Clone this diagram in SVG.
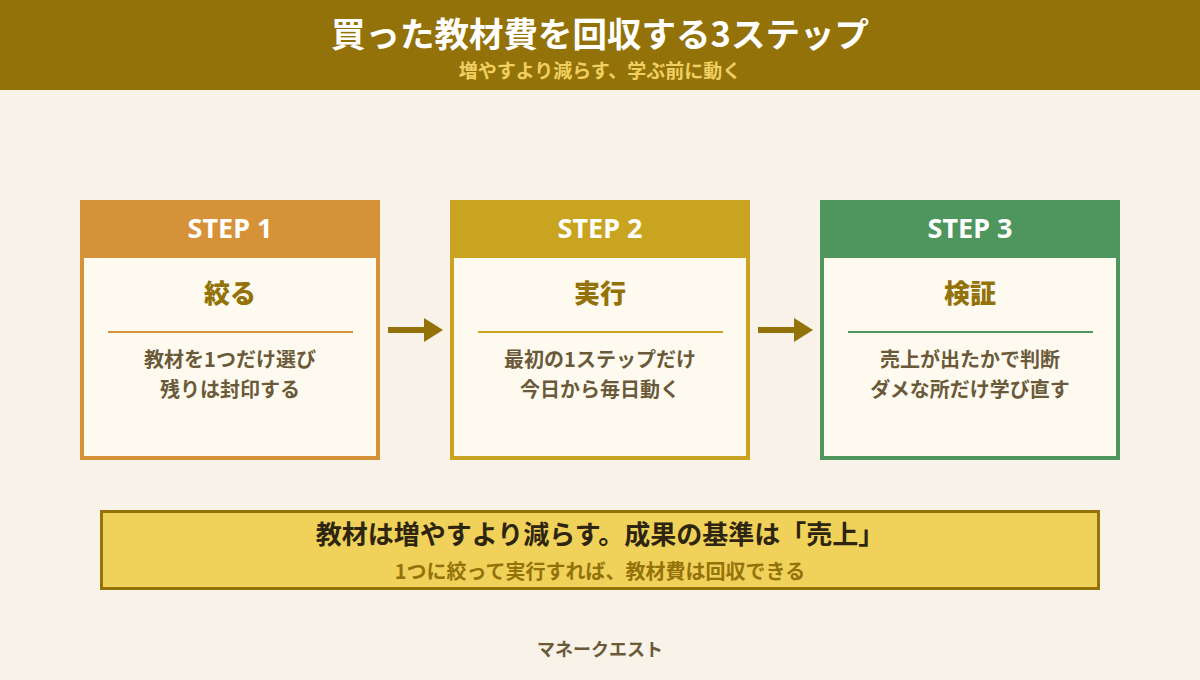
<svg xmlns="http://www.w3.org/2000/svg" width="1200" height="680" viewBox="0 0 1200 680">
<style>
text{font-family:"Noto Sans CJK JP","Noto Sans",sans-serif;text-anchor:middle;font-weight:700}
.hd{fill:#fff;font-size:27px;font-family:"Noto Sans","Noto Sans CJK JP",sans-serif}
.tt{fill:#94720a;font-size:26px;font-weight:900}
.bd{fill:#6b5a3a;font-size:20px}
.card{fill:#fffaf0;stroke-width:4}
</style>
<rect width="1200" height="680" fill="#f9f2e8"/>
<rect width="1200" height="90" fill="#94720a"/>
<text x="600" y="47" font-size="34.5" font-weight="900" fill="#fff">買った教材費を回収する3ステップ</text>
<text x="600" y="78" font-size="19" fill="#f0d060">増やすより減らす、学ぶ前に動く</text>
<g id="step1">
<rect class="card" x="82" y="202" width="296" height="256" stroke="#d69238"/>
<rect x="80" y="200" width="300" height="58" fill="#d69238"/>
<text class="hd" x="230" y="238">STEP 1</text>
<text class="tt" x="230" y="303">絞る</text>
<line x1="108" y1="332" x2="353" y2="332" stroke="#d69238" stroke-width="2"/>
<text class="bd" x="230" y="367">教材を1つだけ選び</text>
<text class="bd" x="230" y="397">残りは封印する</text>
</g>
<g id="step2">
<rect class="card" x="452" y="202" width="296" height="256" stroke="#c9a420"/>
<rect x="450" y="200" width="300" height="58" fill="#c9a420"/>
<text class="hd" x="600" y="238">STEP 2</text>
<text class="tt" x="600" y="303">実行</text>
<line x1="478" y1="332" x2="723" y2="332" stroke="#c9a420" stroke-width="2"/>
<text class="bd" x="600" y="367">最初の1ステップだけ</text>
<text class="bd" x="600" y="397">今日から毎日動く</text>
</g>
<g id="step3">
<rect class="card" x="822" y="202" width="296" height="256" stroke="#4f955e"/>
<rect x="820" y="200" width="300" height="58" fill="#4f955e"/>
<text class="hd" x="970" y="238">STEP 3</text>
<text class="tt" x="970" y="303">検証</text>
<line x1="848" y1="332" x2="1093" y2="332" stroke="#4f955e" stroke-width="2"/>
<text class="bd" x="970" y="367">売上が出たかで判断</text>
<text class="bd" x="970" y="397">ダメな所だけ学び直す</text>
</g>
<g id="connectors" fill="#94720a" stroke="#94720a">
<line x1="388" y1="330" x2="428" y2="330" stroke-width="6"/>
<polygon points="424,318 443,330 424,342" stroke="none"/>
<line x1="758" y1="330" x2="798" y2="330" stroke-width="6"/>
<polygon points="794,318 813,330 794,342" stroke="none"/>
</g>
<g id="summary">
<rect x="101.5" y="511.5" width="997" height="77" fill="#f0d15a" stroke="#94720a" stroke-width="3"/>
<text x="600" y="544" font-size="26" font-weight="900" fill="#2e2510">教材は増やすより減らす。成果の基準は「売上」</text>
<text x="600" y="579" font-size="20" fill="#94720a">1つに絞って実行すれば、教材費は回収できる</text>
</g>
<text x="600" y="656" font-size="18" fill="#6b5a3a">マネークエスト</text>
</svg>
